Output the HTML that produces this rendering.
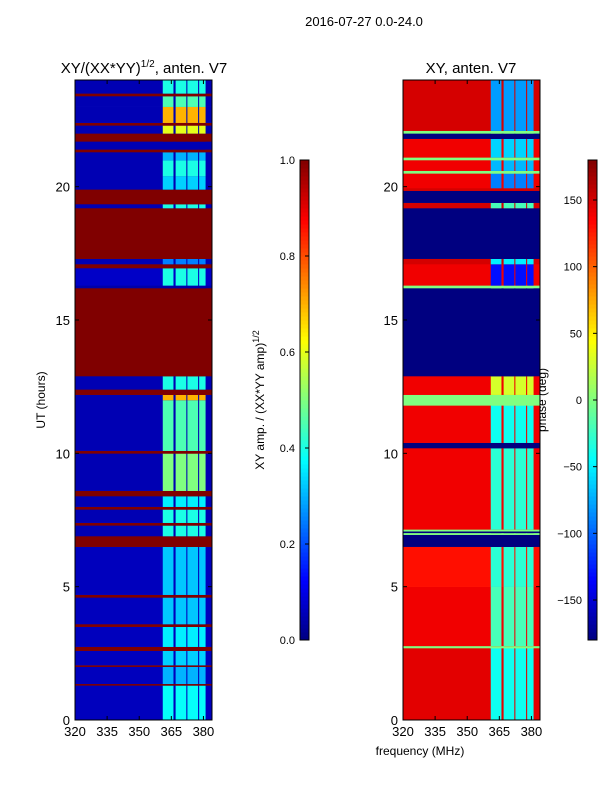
<!DOCTYPE html>
<html><head><meta charset="utf-8"><style>
body{margin:0;background:#fff;font-family:"Liberation Sans",sans-serif}
svg text{font-family:"Liberation Sans",sans-serif}
</style></head><body>
<svg id="fig" width="600" height="800" xmlns="http://www.w3.org/2000/svg">
<text x="364" y="26" font-size="13" text-anchor="middle">2016-07-27 0.0-24.0</text>
<text x="144" y="73" font-size="15" text-anchor="middle">XY/(XX*YY)<tspan font-size="10" dy="-6">1/2</tspan><tspan dy="6">, anten. V7</tspan></text>
<text x="471" y="73" font-size="15" text-anchor="middle">XY, anten. V7</text>
<text x="420" y="755" font-size="12" text-anchor="middle">frequency (MHz)</text>
<text transform="translate(45,400) rotate(-90)" font-size="12" text-anchor="middle">UT (hours)</text>
<text transform="translate(264,400) rotate(-90)" font-size="12" text-anchor="middle">XY amp. / (XX*YY amp)<tspan font-size="9" dy="-5">1/2</tspan></text>
<text transform="translate(546,400) rotate(-90)" font-size="12" text-anchor="middle">phase (deg)</text>
<g id="layer"></g>
</svg>
<script>
const freqTicks=[320,335,350,365,380];
const timeTicks=[0,5,10,15,20];
const ampTicks=[0.0,0.2,0.4,0.6,0.8,1.0];
const phaseTicks=[-150,-100,-50,0,50,100,150];
// amplitude bands: [t0,t1,background,high-freq]
const ampBands=[[0,1.3,0.06,0.38],[1.3,1.36,1,1],[1.36,2,0.06,0.3],[2,2.06,1,1],[2.06,2.6,0.06,0.33],[2.6,2.75,1,1],[2.75,3.5,0.06,0.36],[3.5,3.6,1,1],[3.6,4.6,0.06,0.32],[4.6,4.7,1,1],[4.7,6.5,0.06,0.32],[6.5,6.9,1,1],[6.9,7.3,0.05,0.4],[7.3,7.4,1,1],[7.4,7.9,0.05,0.4],[7.9,8.0,1,1],[8.0,8.4,0.05,0.36],[8.4,8.6,1,1],[8.6,10.0,0.05,0.5],[10.0,10.1,1,1],[10.1,12.0,0.05,0.45],[12.0,12.2,0.05,0.7],[12.2,12.4,1,1],[12.4,12.9,0.05,0.4],[12.9,16.2,1,1],[16.2,16.3,0.04,0.04],[16.3,16.95,0.07,0.4],[16.95,17.1,1,1],[17.1,17.3,0.05,0.25],[17.3,19.2,1,1],[19.2,19.35,0.05,0.4],[19.35,19.9,1,1],[19.9,20.4,0.05,0.33],[20.4,21.0,0.05,0.4],[21.0,21.3,0.05,0.3],[21.3,21.4,1,1],[21.4,21.7,0.05,0.05],[21.7,22.0,1,1],[22.0,22.3,0.05,0.6],[22.3,22.4,1,1],[22.4,23.0,0.05,0.7],[23.0,23.4,0.05,0.45],[23.4,23.5,1,1],[23.5,24,0.05,0.4]];
// phase bands: [t0,t1,background,high-freq] degrees
const phaseBands=[[0,2.7,145,-40],[2.7,2.78,0,0],[2.78,5.0,140,-20],[5.0,6.5,130,-30],[6.5,6.95,-180,-180],[6.95,7.02,0,0],[7.02,7.08,-180,-180],[7.08,7.15,0,0],[7.15,10.2,140,-30],[10.2,10.4,-180,-180],[10.4,11.8,140,-40],[11.8,12.2,0,0],[12.2,12.9,140,30],[12.9,16.2,-180,-180],[16.2,16.3,0,0],[16.3,17.1,140,-130],[17.1,17.3,150,-50],[17.3,19.2,-180,-180],[19.2,19.4,150,-20],[19.4,19.85,-180,-180],[19.85,19.95,150,150],[19.95,20.5,140,-90],[20.5,20.6,0,0],[20.6,21.0,140,-70],[21.0,21.1,0,0],[21.1,21.8,140,-60],[21.8,22.0,-180,-180],[22.0,22.1,0,0],[22.1,24,150,-80]];
const hiCols=[[361,366],[367,372],[372.5,377.5],[378,381]];
const NS="http://www.w3.org/2000/svg";
const L=document.getElementById('layer');
function jet(v){v=Math.max(0,Math.min(1,v));
 const r=Math.min(1,Math.max(0,1.5-Math.abs(4*v-3))),g=Math.min(1,Math.max(0,1.5-Math.abs(4*v-2))),b=Math.min(1,Math.max(0,1.5-Math.abs(4*v-1)));
 return `rgb(${Math.round(r*255)},${Math.round(g*255)},${Math.round(b*255)})`;}
function el(t,a){const e=document.createElementNS(NS,t);for(const k in a)e.setAttribute(k,a[k]);L.appendChild(e);return e;}
const top0=80,bot0=720;
const yT=t=>bot0-(t/24)*(bot0-top0);
function panel(x0,bands,norm,name){
 const w=137,xF=f=>x0+(f-320)*(w/64);
 bands.forEach((b,i)=>{
  const r=el('rect',{x:x0,y:yT(b[1]),width:w,height:yT(b[0])-yT(b[1])+0.3,fill:jet(norm(b[2]))});
  
  
  hiCols.forEach((c,j)=>{
   const h=el('rect',{x:xF(c[0]),y:yT(b[1]),width:xF(c[1])-xF(c[0]),height:yT(b[0])-yT(b[1])+0.3,fill:jet(norm(b[3]))});
   
   
  });
 });
 const f=el('rect',{x:x0,y:top0,width:w,height:bot0-top0,fill:'none',stroke:'#000','stroke-width':1});
 
 
 freqTicks.forEach(v=>{const x=xF(v);
  el('line',{x1:x,x2:x,y1:bot0,y2:bot0-4,stroke:'#000'});el('line',{x1:x,x2:x,y1:top0,y2:top0+4,stroke:'#000'});
  const t=el('text',{x:x,y:bot0+16,'font-size':13,'text-anchor':'middle'});t.textContent=v;
  
  });
 timeTicks.forEach(v=>{const y=yT(v);
  el('line',{x1:x0,x2:x0+4,y1:y,y2:y,stroke:'#000'});el('line',{x1:x0+w,x2:x0+w-4,y1:y,y2:y,stroke:'#000'});
  const t=el('text',{x:x0-5,y:y+5,'font-size':13,'text-anchor':'end'});t.textContent=v;
  
  });
}
panel(75,ampBands,v=>v,'amp-panel');
panel(403,phaseBands,v=>(v+180)/360,'phase-panel');
function cbar(x0,ticks,lo,hi,fmt,name,lx){
 const y0=160,y1=640,n=120;
 for(let i=0;i<n;i++){const r=el('rect',{x:x0,y:y1-(i+1)*(y1-y0)/n,width:9,height:(y1-y0)/n+0.5,fill:jet((i+0.5)/n)});
  
  }
 const f=el('rect',{x:x0,y:y0,width:9,height:y1-y0,fill:'none',stroke:'#000'});
 
 
 ticks.forEach(v=>{const y=y1-(v-lo)/(hi-lo)*(y1-y0);
  el('line',{x1:x0+9,x2:x0+5,y1:y,y2:y,stroke:'#000'});
  const t=el('text',{x:lx,y:y+4,'font-size':11,'text-anchor':'end'});t.textContent=fmt(v);
  
  });
}
cbar(300,ampTicks,0,1,v=>v.toFixed(1),'amp-colorbar',295);
cbar(588,phaseTicks,-180,180,v=>(v<0?'\u2212'+(-v):String(v)),'phase-colorbar',582);
</script>
</body></html>
